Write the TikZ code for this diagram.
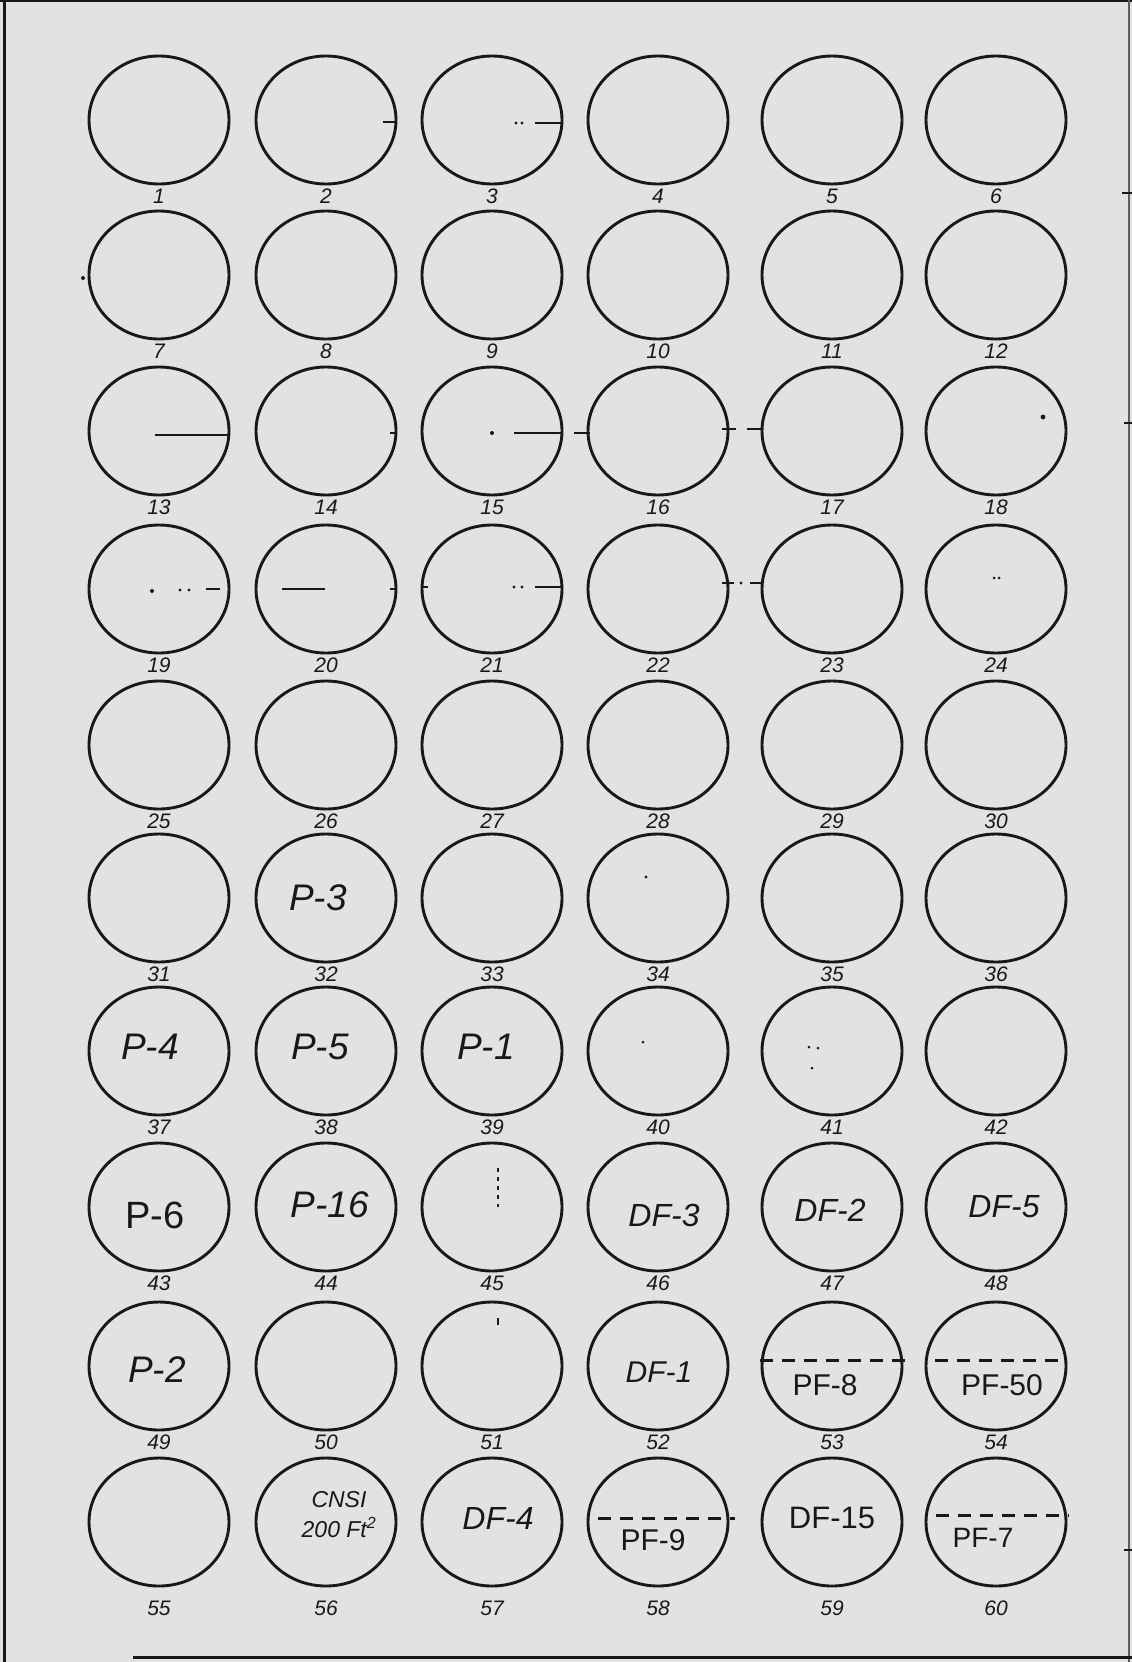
\documentclass[tikz,border=0pt]{standalone}
\usepackage{fontspec}
\setmainfont{Liberation Sans}
\usetikzlibrary{shapes.geometric}
\definecolor{paper}{RGB}{226,226,224}
\definecolor{ink}{RGB}{24,24,24}
\tikzset{
  hole/.style={ellipse, draw=ink, line width=2.9pt, minimum width=140pt, minimum height=128pt, inner sep=0pt},
  lbl/.style={font=\fontsize{21}{21}\selectfont\itshape, text=ink, inner sep=0pt},
  hand/.style={font=\fontsize{37}{37}\selectfont\itshape, text=ink, inner sep=0pt},
  block/.style={font=\fontsize{30}{30}\selectfont, text=ink, inner sep=0pt},
  scrib/.style={draw=ink, line width=2.6pt},
  speck/.style={fill=ink},
  cut/.style={draw=ink, line width=3pt, dash pattern=on 13pt off 9pt}
}
\begin{document}
\begin{tikzpicture}[x=1pt,y=-1pt]
\useasboundingbox (0,0) rectangle (1132,1662);
\fill[paper] (0,0) rectangle (1132,1662);
% frame edges of the sheet
\draw[ink, line width=2.5pt] (0,1) -- (1132,1);
\draw[ink, line width=3pt] (4,0) -- (4,1662);
\draw[ink!70, line width=1.5pt] (1129,0) -- (1129,1662);
\draw[ink, line width=3pt] (133,1657) -- (1132,1657);
\draw[ink, line width=2pt] (1122,193) -- (1132,193);
\draw[ink, line width=2pt] (1124,423) -- (1132,423);
\draw[ink, line width=2pt] (1124,1550) -- (1132,1550);
% grid of holes with numbers
\foreach \r/\y in {0/120,1/275,2/431,3/589,4/745,5/898,6/1051,7/1207,8/1366,9/1522}{
  \foreach \c/\x in {1/159,2/326,3/492,4/658,5/832,6/996}{
    \pgfmathtruncatemacro\n{\r*6+\c}
    \pgfmathsetmacro\off{\r==9 ? 86 : 76}
    \node[hole] (c\n) at (\x,\y) {};
    \node[lbl] (l\n) at (\x,\y+\off) {\n};
  }
}
% marks inside holes
\draw[scrib] (383,122) -- (396,122);
\fill[speck] (516,123) circle (1.6pt) (522,123) circle (1.6pt);
\draw[scrib] (535,123) -- (562,123);
\fill[speck] (83,278) circle (2pt);
\draw[scrib] (155,435) -- (229,435);
\draw[scrib] (390,433) -- (396,433);
\fill[speck] (492,433) circle (2pt);
\draw[scrib] (514,433) -- (562,433);
\draw[scrib] (574,433) -- (590,433);
\draw[scrib] (722,429) -- (736,429);
\draw[scrib] (747,429) -- (763,429);
\fill[speck] (1043,417) circle (2.4pt);
\fill[speck] (152,591) circle (2pt) (180,590) circle (1.6pt) (189,590) circle (1.6pt);
\draw[scrib] (206,589) -- (220,589);
\draw[scrib] (282,589) -- (325,589);
\draw[scrib] (390,589) -- (396,589);
\draw[scrib] (422,587) -- (428,587);
\fill[speck] (514,587) circle (1.6pt) (522,587) circle (1.6pt);
\draw[scrib] (535,587) -- (562,587);
\draw[scrib] (722,583) -- (734,583);
\fill[speck] (741,583) circle (1.6pt);
\draw[scrib] (750,583) -- (763,583);
\fill[speck] (994,578) circle (1.5pt) (999,578) circle (1.5pt);
\fill[speck] (646,877) circle (1.6pt);
\fill[speck] (643,1042) circle (1.5pt);
\fill[speck] (809,1047) circle (1.5pt) (818,1048) circle (1.5pt) (812,1068) circle (1.5pt);
\draw[draw=ink, line width=1.5pt, dash pattern=on 4pt off 5pt] (498,1168) -- (498,1207);
\draw[draw=ink, line width=1.5pt] (498,1318) -- (498,1325);
% dashed cuts
\draw[cut] (760,1360) -- (907,1360);
\draw[cut] (935,1360) -- (1066,1360);
\draw[cut] (598,1518) -- (735,1518);
\draw[cut] (936,1515) -- (1069,1515);
% texts inside holes
\node[hand] (t32) at (318,898) {P-3};
\node[hand] (t37) at (150,1047) {P-4};
\node[hand] (t38) at (320,1047) {P-5};
\node[hand] (t39) at (486,1047) {P-1};
\node[block, font=\fontsize{38}{38}\selectfont] (t43) at (155,1215) {P-6};
\node[hand] (t44) at (330,1205) {P-16};
\node[hand, font=\fontsize{32}{32}\selectfont\itshape] (t46) at (664,1215) {DF-3};
\node[hand, font=\fontsize{32}{32}\selectfont\itshape] (t47) at (830,1210) {DF-2};
\node[hand, font=\fontsize{32}{32}\selectfont\itshape] (t48) at (1004,1207) {DF-5};
\node[hand] (t49) at (157,1370) {P-2};
\node[hand, font=\fontsize{30}{30}\selectfont\itshape] (t52) at (659,1372) {DF-1};
\node[block] (t53) at (825,1385) {PF-8};
\node[block] (t54) at (1002,1385) {PF-50};
\node[hand, font=\fontsize{23}{30}\selectfont\itshape, align=center] (t56) at (339,1515) {CNSI\\200 Ft\textsuperscript{2}};
\node[hand, font=\fontsize{32}{32}\selectfont\itshape] (t57) at (498,1518) {DF-4};
\node[block] (t58) at (653,1540) {PF-9};
\node[block, font=\fontsize{31}{31}\selectfont] (t59) at (832,1518) {DF-15};
\node[block, font=\fontsize{28}{28}\selectfont] (t60) at (983,1538) {PF-7};
\end{tikzpicture}
\end{document}
